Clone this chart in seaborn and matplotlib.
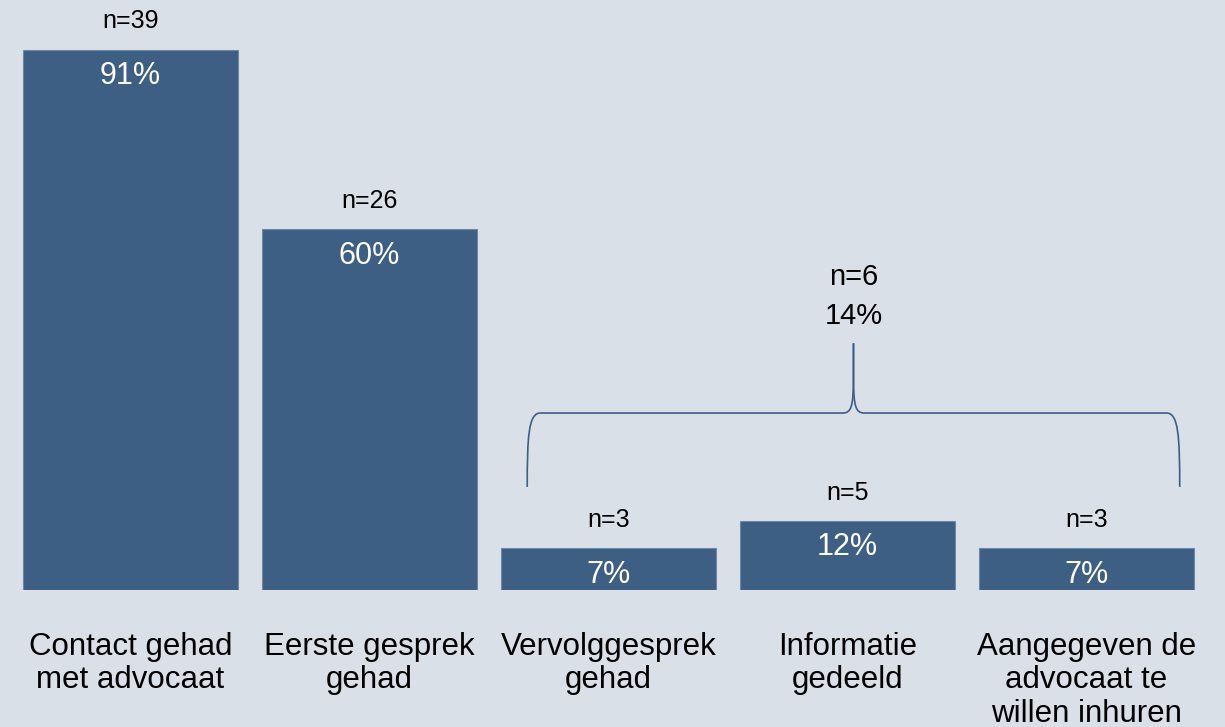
import numpy as np
import pandas as pd
import seaborn as sns
import matplotlib.pyplot as plt
from matplotlib.path import Path
from matplotlib.patches import PathPatch

# Data
categories = ['Contact gehad\nmet advocaat', 'Eerste gesprek\ngehad', 'Vervolggesprek\ngehad',
              'Informatie\ngedeeld', 'Aangegeven de\nadvocaat te\nwillen inhuren']
counts = [39, 26, 3, 5, 3]
pct = [90.7, 60.5, 7.0, 11.6, 7.0]
pct_labels = ['91%', '60%', '7%', '12%', '7%']
group_count = 6
group_label = '14%'

bg = '#d9e0e8'
bar_color = '#3d5f83'

sns.set_theme(style='white')
plt.rcParams['font.family'] = ['Liberation Sans', 'DejaVu Sans']

df = pd.DataFrame({'cat': categories, 'pct': pct})

fig = plt.figure(figsize=(12.25, 7.27), dpi=100)
fig.patch.set_facecolor(bg)
ax = fig.add_axes([11 / 1225, 137 / 727, 1195 / 1225, 584 / 727])
ax.set_facecolor(bg)

sns.barplot(data=df, x='cat', y='pct', color=bar_color, saturation=1, width=0.9,
            edgecolor='#6f88a3', linewidth=0.8, ax=ax)
ax.set_ylim(0, 98)
ax.set_xlim(-0.5, 4.5)
ax.set_xlabel('')
ax.set_ylabel('')
ax.set_yticks([])
for s in ax.spines.values():
    s.set_visible(False)
ax.tick_params(axis='x', length=0, pad=30, labelsize=22.5, labelcolor='black')
for t in ax.get_xticklabels():
    t.set_linespacing(1.16)
    t.set_verticalalignment('top')

# value labels
for i, bar in enumerate(ax.patches):
    xc = bar.get_x() + bar.get_width() / 2
    h = bar.get_height()
    ax.text(xc, h + 4.7, f'n={counts[i]}', ha='center', va='center', fontsize=18, color='black')
    ax.text(xc, h - 4.4, pct_labels[i], ha='center', va='center', fontsize=22, color='white')

# curly brace over the last three bars
x0, x1 = 1.66, 4.39
xm = (x0 + x1) / 2
yb, ym, yt = 17.3, 29.7, 41.4
dx = 0.055

def half(xe, sgn):
    verts = [(xe, yb), (xe, ym - 4), (xe + sgn * 0.005, ym), (xe + sgn * dx, ym),
             (xm - sgn * 0.045, ym),
             (xm - sgn * 0.01, ym), (xm, ym + 1), (xm, ym + 6),
             (xm, yt)]
    codes = [Path.MOVETO, Path.CURVE4, Path.CURVE4, Path.CURVE4,
             Path.LINETO,
             Path.CURVE4, Path.CURVE4, Path.CURVE4,
             Path.LINETO]
    return PathPatch(Path(verts, codes), fill=False, edgecolor=bar_color, lw=1.2)

ax.add_patch(half(x0, 1))
ax.add_patch(half(x1, -1))

ax.text(xm, 52.5, f'n={group_count}', ha='center', va='center', fontsize=21, color='black')
ax.text(xm, 45.9, group_label, ha='center', va='center', fontsize=21, color='black')

fig.savefig('out.png', dpi=100, facecolor=bg)
